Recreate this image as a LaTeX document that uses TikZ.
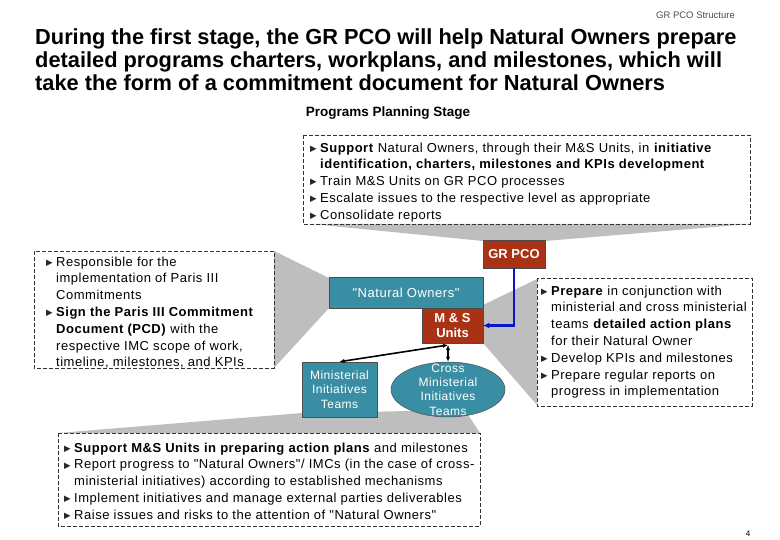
\documentclass[tikz,border=0pt]{standalone}
\usepackage{fontspec}
\setmainfont{Liberation Sans}
\newfontfamily\bodyfont[LetterSpace=4]{Liberation Sans}
\newfontfamily\dvfont{DejaVu Sans}
\usetikzlibrary{shapes.geometric,arrows.meta}
\definecolor{tealbox}{HTML}{3A8EA4}
\definecolor{brick}{HTML}{AA3214}
\definecolor{callgray}{HTML}{BEBEBE}
\definecolor{bluearrow}{HTML}{0A14C8}
\newcommand{\tri}{\makebox[10bp][l]{\raisebox{0.9bp}{\dvfont\fontsize{8.5bp}{8.5bp}\selectfont\color{black!85}▶}}}
\newcommand{\ind}{\hspace*{10bp}}
\newcommand{\dq}{\char34\relax}
\tikzset{
  dbox/.style={draw=black!80, line width=0.7bp, dash pattern=on 3.8bp off 2.2bp},
  btext/.style={anchor=north west, inner sep=0pt, align=left, font=\bodyfont\fontsize{13bp}{16.8bp}\selectfont},
  tbox/.style={draw=black!70, line width=0.5bp, fill=tealbox, text=white, align=center, inner sep=0pt},
  rbox/.style={draw=black!70, line width=0.5bp, fill=brick, text=white, align=center, inner sep=0pt, font=\bfseries\fontsize{13bp}{15bp}\selectfont},
  gshape/.style={fill=callgray, draw=none},
  conn/.style={black, line width=1.6bp, {Latex[length=5bp,width=4.5bp]}-{Latex[length=5bp,width=4.5bp]}}
}
\begin{document}
\begin{tikzpicture}[x=1bp,y=-1bp]
\useasboundingbox (0,0) rectangle (780,540);
% gray callout wedges
\fill[gshape] (312,224) -- (750,224) -- (545,241) -- (483,241) -- cycle;
\fill[gshape] (274,251) -- (329,278) -- (329,308) -- (274,368) -- cycle;
\fill[gshape] (483,305) -- (537,279) -- (537,405) -- (483,343) -- cycle;
\fill[gshape] (58,433) -- (302,413) -- (465,410) -- (480,433) -- cycle;
% headings
\node[anchor=east, inner sep=0pt, text=black!70, font=\fontsize{9.5bp}{11bp}\selectfont] (hdr) at (735,15) {GR PCO Structure};
\node[anchor=north west, inner sep=0pt, align=left, font=\bfseries\fontsize{21.8bp}{23bp}\selectfont] (title) at (35,28.7)
  {During the first stage, the GR PCO will help Natural Owners prepare\\
   detailed programs charters, workplans, and milestones, which will\\
   take the form of a commitment document for Natural Owners};
\node[inner sep=0pt, font=\bfseries\fontsize{13.5bp}{15bp}\selectfont] (stage) at (388,113) {Programs Planning Stage};
% dashed boxes
\draw[dbox] (303,135) rectangle (750,224);
\draw[dbox] (34,251) rectangle (274,368);
\draw[dbox] (537,278) rectangle (752,406);
\draw[dbox] (58,433) rectangle (480,526);
% box texts
\node[btext] (toptext) at (310,142.5)
  {\tri\textbf{Support} Natural Owners, through their M\&S Units, in \textbf{initiative}\\
   \ind\textbf{identification, charters, milestones and KPIs development}\\
   \tri Train M\&S Units on GR PCO processes\\
   \tri Escalate issues to the respective level as appropriate\\
   \tri Consolidate reports};
\node[btext] (lefttext) at (46,256.5)
  {\tri Responsible for the\\
   \ind implementation of Paris III\\
   \ind Commitments\\
   \tri\textbf{Sign the Paris III Commitment}\\
   \ind\textbf{Document (PCD)} with the\\
   \ind respective IMC scope of work,\\
   \ind timeline, milestones, and KPIs};
\node[btext] (righttext) at (541,285.5)
  {\tri\textbf{Prepare} in conjunction with\\
   \ind ministerial and cross ministerial\\
   \ind teams \textbf{detailed action plans}\\
   \ind for their Natural Owner\\
   \tri Develop KPIs and milestones\\
   \tri Prepare regular reports on\\
   \ind progress in implementation};
\node[btext] (bottomtext) at (64,442.5)
  {\tri\textbf{Support M\&S Units in preparing action plans} and milestones\\
   \tri Report progress to \dq Natural Owners\dq/ IMCs (in the case of cross-\\
   \ind ministerial initiatives) according to established mechanisms\\
   \tri Implement initiatives and manage external parties deliverables\\
   \tri Raise issues and risks to the attention of \dq Natural Owners\dq};
% organisation nodes
\node[rbox, minimum width=62bp, minimum height=28bp] (grpco) at (514,254) {GR PCO};
\node[tbox, minimum width=154bp, minimum height=31bp, font=\bodyfont\fontsize{13bp}{15bp}\selectfont] (owners) at (406,292.5) {\dq Natural Owners\dq};
\node[rbox, minimum width=61bp, minimum height=35bp, font=\bfseries\fontsize{13bp}{15bp}\selectfont] (msu) at (452.5,325.5) {M \& S\\Units};
\node[tbox, minimum width=75bp, minimum height=55bp, font=\bodyfont\fontsize{12bp}{14.5bp}\selectfont] (minteams) at (339.5,389.5) {Ministerial\\Initiatives\\Teams};
\node[tbox, ellipse, minimum width=114bp, minimum height=55bp] (crossteams) at (448,389.5) {};
\node[inner sep=0pt, text=white, align=center, font=\bodyfont\fontsize{12bp}{14.3bp}\selectfont] (crosstext) at (448,389.5) {Cross\\Ministerial\\Initiatives\\Teams};
% connectors
\coordinate (msfoot) at (448,345);
\draw[bluearrow, line width=2.6bp, -{Latex[length=6bp,width=6bp]}] (grpco.south) |- (msu.east);
\draw[conn] (msfoot) -- (minteams.north);
\draw[conn] (msfoot) -- (crossteams.north);
% page number
\node[inner sep=0pt, font=\fontsize{8bp}{9bp}\selectfont] (pagenum) at (748,534) {4};
\end{tikzpicture}
\end{document}
